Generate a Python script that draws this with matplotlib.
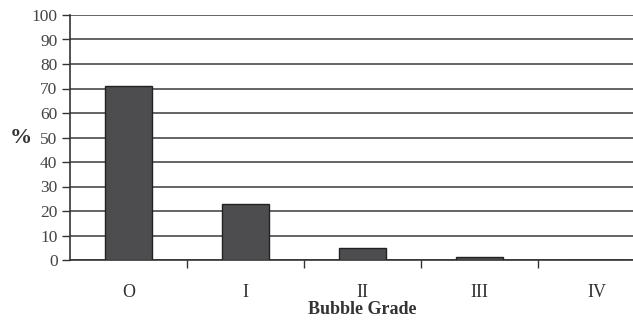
import matplotlib.pyplot as plt
import numpy as np

grades = ['O', 'I', 'II', 'III', 'IV']
percent = [71, 23, 5, 1.2, 0.2]

plt.rcParams['font.family'] = ['Liberation Serif', 'DejaVu Serif']

fig = plt.figure(figsize=(6.33, 3.2), dpi=100)
ax = fig.add_axes([70 / 633, 60 / 320, 585 / 633, 245 / 320])

index = np.arange(len(grades))
ax.bar(index, percent, width=0.4, color='#4d4d4f', edgecolor='#222222', linewidth=1, zorder=3)

ax.set_xlim(-0.5, len(grades) - 0.5)
ax.set_ylim(0, 100)
ax.set_yticks(np.arange(0, 101, 10))
ax.yaxis.grid(True, color='#3a3a3a', linewidth=1.1, zorder=0)

ax.set_xticks(index)
ax.set_xticklabels(grades)
ax.set_xticks(np.arange(0.5, len(grades) - 0.5, 1), minor=True)
ax.tick_params(axis='x', which='major', length=0, pad=17, labelsize=13, labelcolor='#333333')
ax.tick_params(axis='x', which='minor', length=6, width=1, color='#333333', direction='out')
ax.tick_params(axis='y', length=6, width=1, color='#333333', pad=3, labelsize=12.5, labelcolor='#444444')

for side in ['top', 'right']:
    ax.spines[side].set_visible(False)
ax.spines['left'].set_color('#333333')
ax.spines['bottom'].set_color('#333333')
ax.spines['left'].set_linewidth(1.2)
ax.spines['bottom'].set_linewidth(1.2)

ax.set_xlabel('Bubble Grade', fontsize=13, fontweight='bold', color='#333333', labelpad=0.5)
fig.text(21 / 633, 1 - 138 / 320, '%', fontsize=16, fontweight='bold', color='#333333',
         ha='center', va='center')

fig.savefig('out.png', dpi=100)
